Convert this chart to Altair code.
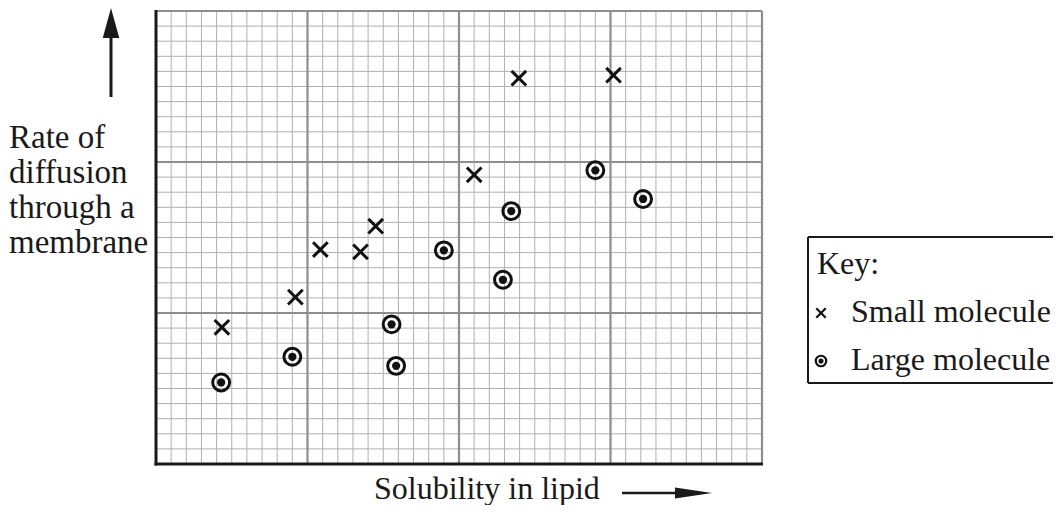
import altair as alt
import pandas as pd

# ---- data (in small-square grid units) ----
small_x = [4.35, 9.2, 10.85, 13.5, 14.5, 21.0, 23.95, 30.2]
small_y = [9.05, 11.05, 14.2, 14.05, 15.75, 19.15, 25.55, 25.75]
large_x = [4.3, 9.0, 15.55, 15.85, 19.0, 22.9, 23.45, 29.0, 32.15]
large_y = [5.4, 7.1, 9.25, 6.5, 14.15, 12.2, 16.75, 19.45, 17.55]

x_max = 40
y_max = 30
major_step = 10

y_label = "Rate of\ndiffusion\nthrough a\nmembrane"
x_label = "Solubility in lipid"
key_title = "Key:"
key_labels = ["Small molecule", "Large molecule"]

FONT = "Liberation Serif"
W, H = 606, 453

xs = alt.Scale(domain=[0, x_max], nice=False, zero=False)
ys = alt.Scale(domain=[0, y_max], nice=False, zero=False)

minor_v = pd.DataFrame({"v": [i for i in range(1, x_max) if i % major_step]})
minor_h = pd.DataFrame({"v": [i for i in range(1, y_max) if i % major_step]})
major_v = pd.DataFrame({"v": list(range(major_step, x_max + 1, major_step))})
major_h = pd.DataFrame({"v": list(range(major_step, y_max + 1, major_step))})

small_df = pd.DataFrame({"x": small_x, "y": small_y})
large_df = pd.DataFrame({"x": large_x, "y": large_y})
one = pd.DataFrame({"a": [0]})

grid_minor_color = "#b0b0b0"
grid_major_color = "#8e8e8e"
INK = "#1a1a1a"

g1 = alt.Chart(minor_v).mark_rule(color=grid_minor_color, strokeWidth=1).encode(
    x=alt.X("v:Q", scale=xs, axis=None))
g2 = alt.Chart(minor_h).mark_rule(color=grid_minor_color, strokeWidth=1).encode(
    y=alt.Y("v:Q", scale=ys, axis=None))
g3 = alt.Chart(major_v).mark_rule(color=grid_major_color, strokeWidth=2.2).encode(
    x=alt.X("v:Q", scale=xs, axis=None))
g4 = alt.Chart(major_h).mark_rule(color=grid_major_color, strokeWidth=2.2).encode(
    y=alt.Y("v:Q", scale=ys, axis=None))

axis_left = alt.Chart(one).mark_rule(color=INK, strokeWidth=3).encode(
    x=alt.value(0), y=alt.value(-1), y2=alt.value(H + 1.5))
axis_bottom = alt.Chart(one).mark_rule(color=INK, strokeWidth=3).encode(
    x=alt.value(-1.5), x2=alt.value(W + 1), y=alt.value(H))

CROSS = "M-1,-1L1,1M-1,1L1,-1"

small_pts = alt.Chart(small_df).mark_point(
    shape=CROSS, size=215, filled=False, color="#111", strokeWidth=3, opacity=1
).encode(x=alt.X("x:Q", scale=xs, axis=None), y=alt.Y("y:Q", scale=ys, axis=None))

large_ring = alt.Chart(large_df).mark_point(
    shape="circle", size=285, filled=False, color="#111", strokeWidth=3, opacity=1
).encode(x=alt.X("x:Q", scale=xs, axis=None), y=alt.Y("y:Q", scale=ys, axis=None))
large_dot = alt.Chart(large_df).mark_point(
    shape="circle", size=68, filled=True, color="#111", opacity=1
).encode(x=alt.X("x:Q", scale=xs, axis=None), y=alt.Y("y:Q", scale=ys, axis=None))

# ---- annotations (pixel positions relative to plot origin) ----
ytext = alt.Chart(one).mark_text(
    text=y_label, lineBreak="\n", lineHeight=35, font=FONT, fontSize=33,
    align="left", baseline="alphabetic", color=INK
).encode(x=alt.value(-147), y=alt.value(137))

up_shaft = alt.Chart(one).mark_rule(color=INK, strokeWidth=3).encode(
    x=alt.value(-45), y=alt.value(24), y2=alt.value(86))
up_head = alt.Chart(one).mark_point(
    shape="M-0.55,1L0,-1L0.55,1Z", size=900, filled=True, color=INK, opacity=1
).encode(x=alt.value(-45), y=alt.value(12))

xtext = alt.Chart(one).mark_text(
    text=x_label, font=FONT, fontSize=32, align="left", baseline="alphabetic",
    color=INK
).encode(x=alt.value(218), y=alt.value(488))

r_shaft = alt.Chart(one).mark_rule(color=INK, strokeWidth=2.5).encode(
    x=alt.value(466), x2=alt.value(530), y=alt.value(482))
r_head = alt.Chart(one).mark_point(
    shape="M-1,-0.3L1,0L-1,0.3Z", size=1369, filled=True, color=INK, opacity=1
).encode(x=alt.value(537.5), y=alt.value(482))

# key box
BL, BT, BB, BR = 652, 226, 372, 900
box_l = alt.Chart(one).mark_rule(color=INK, strokeWidth=2).encode(
    x=alt.value(BL), y=alt.value(BT), y2=alt.value(BB))
box_t = alt.Chart(one).mark_rule(color=INK, strokeWidth=2).encode(
    x=alt.value(BL), x2=alt.value(BR), y=alt.value(BT))
box_b = alt.Chart(one).mark_rule(color=INK, strokeWidth=2).encode(
    x=alt.value(BL), x2=alt.value(BR), y=alt.value(BB))

key_t = alt.Chart(one).mark_text(
    text=key_title, font=FONT, fontSize=32, align="left", baseline="alphabetic",
    color=INK).encode(x=alt.value(661), y=alt.value(263))
key_s = alt.Chart(one).mark_text(
    text=key_labels[0], font=FONT, fontSize=32, align="left", baseline="alphabetic",
    color=INK).encode(x=alt.value(695), y=alt.value(311))
key_l = alt.Chart(one).mark_text(
    text=key_labels[1], font=FONT, fontSize=32, align="left", baseline="alphabetic",
    color=INK).encode(x=alt.value(695), y=alt.value(359))

key_x = alt.Chart(one).mark_point(
    shape=CROSS, size=90, filled=False, color="#111", strokeWidth=2.2, opacity=1
).encode(x=alt.value(665), y=alt.value(302))
key_ring = alt.Chart(one).mark_point(
    shape="circle", size=110, filled=False, color="#111", strokeWidth=2.2, opacity=1
).encode(x=alt.value(665), y=alt.value(350))
key_dot = alt.Chart(one).mark_point(
    shape="circle", size=26, filled=True, color="#111", opacity=1
).encode(x=alt.value(665), y=alt.value(350))

chart = alt.layer(
    g1, g2, g3, g4, axis_left, axis_bottom,
    small_pts, large_ring, large_dot,
    ytext, up_shaft, up_head, xtext, r_shaft, r_head,
    box_l, box_t, box_b, key_t, key_s, key_l, key_x, key_ring, key_dot,
).properties(
    width=W, height=H,
    autosize=alt.AutoSizeParams(type="none"),
    padding={"left": 148, "top": 3, "right": 291, "bottom": 41},
).configure_view(stroke=None).configure(background="white")

chart.save("out.html", embed_options={"renderer": "svg", "actions": False})
